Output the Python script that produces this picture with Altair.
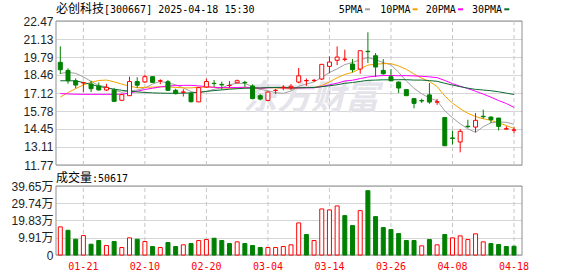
import altair as alt
import pandas as pd

# ---------------- data ----------------
dates = ["01-16", "01-17", "01-20", "01-21", "01-22", "01-23", "01-24", "01-27",
         "02-05", "02-06", "02-07", "02-10", "02-11", "02-12", "02-13", "02-14",
         "02-17", "02-18", "02-19", "02-20", "02-21", "02-24", "02-25", "02-26",
         "02-27", "02-28", "03-03", "03-04", "03-05", "03-06", "03-07", "03-10",
         "03-11", "03-12", "03-13", "03-14", "03-17", "03-18", "03-19", "03-20",
         "03-21", "03-24", "03-25", "03-26", "03-27", "03-28", "03-31", "04-01",
         "04-02", "04-03", "04-07", "04-08", "04-09", "04-10", "04-11", "04-14",
         "04-15", "04-16", "04-17", "04-18"]

opens = [19.40, 18.80, 18.03, 17.87, 17.79, 17.64, 17.34, 17.34, 16.58, 16.92,
         17.97, 17.94, 18.33, 18.02, 17.96, 17.32, 17.18, 17.10, 16.46, 17.57,
         17.84, 17.76, 17.67, 17.88, 17.91, 17.64, 16.92, 16.57, 17.31, 17.53,
         17.52, 17.93, 18.03, 18.04, 18.16, 19.10, 19.55, 19.62, 19.27, 18.90,
         20.22, 19.89, 18.80, 18.33, 17.93, 17.37, 16.70, 16.56, 16.98, 16.44,
         15.30, 13.78, 13.48, 14.65, 14.59, 15.39, 15.33, 15.26, 14.44, 14.36]
highs = [20.59, 18.95, 18.21, 17.95, 18.03, 17.90, 17.80, 17.50, 17.02, 18.33,
         18.29, 18.48, 18.36, 18.14, 18.09, 17.44, 17.40, 17.18, 17.54, 18.18,
         18.08, 17.96, 18.00, 18.12, 18.02, 17.76, 17.04, 17.22, 17.42, 17.71,
         17.78, 18.98, 18.20, 18.17, 19.27, 19.84, 20.58, 20.34, 19.64, 20.26,
         21.63, 20.09, 19.64, 18.90, 17.98, 17.41, 16.70, 16.70, 17.86, 16.67,
         15.30, 14.32, 14.44, 15.13, 15.63, 15.88, 15.38, 15.26, 14.66, 14.57]
lows = [18.53, 17.81, 17.47, 17.20, 17.19, 17.30, 17.27, 16.48, 16.55, 16.90,
        17.50, 17.87, 17.86, 17.77, 17.28, 17.02, 16.86, 16.42, 16.45, 17.52,
        17.58, 17.38, 17.48, 17.84, 17.58, 16.66, 16.57, 16.55, 17.05, 17.32,
        17.35, 17.85, 17.65, 17.95, 18.08, 18.60, 19.20, 19.47, 18.65, 18.55,
        19.35, 18.31, 18.48, 17.98, 17.12, 16.92, 15.98, 16.38, 16.32, 16.24,
        13.20, 13.28, 12.71, 14.52, 14.19, 15.21, 14.89, 14.34, 14.40, 14.15]
closes = [18.85, 18.03, 17.71, 17.88, 17.44, 17.35, 17.54, 16.50, 17.00, 17.97,
          17.70, 18.33, 17.91, 18.03, 17.32, 17.07, 17.19, 16.47, 17.52, 17.97,
          17.82, 17.72, 17.68, 18.03, 17.88, 16.70, 16.67, 17.19, 17.32, 17.55,
          17.62, 18.40, 18.05, 18.06, 19.25, 19.42, 19.79, 19.64, 18.85, 20.26,
          20.19, 19.05, 18.55, 18.03, 17.49, 16.92, 16.35, 16.53, 16.45, 16.47,
          13.20, 13.75, 14.27, 14.62, 15.09, 15.36, 15.14, 14.64, 14.47, 14.37]

# volume in 万 (10k)
volumes = [16.16, 14.21, 9.06, 11.17, 6.20, 8.31, 5.44, 7.74, 4.30, 9.85,
           9.06, 7.74, 4.87, 4.30, 7.16, 4.87, 5.84, 6.59, 8.31, 8.88,
           9.63, 8.31, 6.59, 7.56, 6.59, 5.44, 4.30, 4.30, 4.30, 4.87,
           5.84, 18.45, 11.75, 8.31, 26.47, 25.90, 28.19, 22.63, 16.90, 25.50,
           36.96, 22.06, 15.76, 14.61, 12.32, 8.31, 8.31, 5.27, 8.88, 5.84,
           11.75, 9.85, 11.00, 8.88, 12.15, 7.56, 6.59, 6.02, 4.87, 5.06]
vol_up = [1, 0, 0, 1, 0, 0, 1, 0, 1, 1,
          0, 1, 0, 1, 0, 0, 1, 0, 1, 1,
          0, 0, 0, 1, 0, 0, 0, 1, 1, 1,
          1, 1, 0, 1, 1, 1, 1, 0, 0, 1,
          0, 0, 0, 0, 0, 0, 0, 1, 0, 1,
          0, 1, 1, 1, 1, 1, 0, 0, 0, 0]

ma5 = [18.58, 18.65, 18.58, 18.32, 17.98, 17.68, 17.58, 17.34, 17.17, 17.27,
       17.34, 17.50, 17.78, 17.99, 17.86, 17.73, 17.50, 17.22, 17.11, 17.24,
       17.39, 17.50, 17.74, 17.84, 17.83, 17.60, 17.39, 17.29, 17.15, 17.09,
       17.27, 17.62, 17.79, 17.94, 18.28, 18.64, 18.91, 19.23, 19.39, 19.59,
       19.75, 19.60, 19.38, 19.22, 18.66, 18.01, 17.47, 17.06, 16.75, 16.54,
       15.80, 15.28, 14.83, 14.46, 14.19, 14.62, 14.90, 14.97, 14.94, 14.80]
ma10 = [16.82, 17.15, 17.45, 17.72, 17.92, 18.05, 18.08, 17.95, 17.78, 17.63,
        17.51, 17.54, 17.56, 17.58, 17.57, 17.54, 17.50, 17.50, 17.55, 17.55,
        17.56, 17.50, 17.48, 17.48, 17.54, 17.50, 17.44, 17.52, 17.50, 17.46,
        17.43, 17.50, 17.53, 17.53, 17.67, 17.94, 18.25, 18.50, 18.65, 18.93,
        19.19, 19.26, 19.30, 19.30, 19.13, 18.88, 18.53, 18.22, 17.98, 17.60,
        16.90, 16.37, 15.95, 15.61, 15.37, 15.21, 15.09, 14.90, 14.70, 14.49]
ma20 = [17.08, 17.05, 17.03, 17.02, 17.02, 17.02, 17.02, 17.02, 17.03, 17.12,
        17.25, 17.38, 17.48, 17.57, 17.64, 17.67, 17.69, 17.69, 17.65, 17.59,
        17.54, 17.52, 17.52, 17.53, 17.55, 17.52, 17.47, 17.51, 17.53, 17.50,
        17.49, 17.50, 17.51, 17.51, 17.60, 17.72, 17.85, 18.01, 18.07, 18.19,
        18.31, 18.37, 18.42, 18.42, 18.40, 18.41, 18.39, 18.36, 18.32, 18.26,
        18.05, 17.82, 17.62, 17.45, 17.25, 17.04, 16.81, 16.56, 16.34, 16.05]
ma30 = [18.03, 18.03, 18.02, 17.90, 17.75, 17.62, 17.50, 17.40, 17.32, 17.25,
        17.20, 17.16, 17.13, 17.11, 17.10, 17.10, 17.11, 17.13, 17.18, 17.24,
        17.30, 17.35, 17.40, 17.44, 17.47, 17.48, 17.50, 17.52, 17.53, 17.54,
        17.50, 17.51, 17.52, 17.53, 17.59, 17.66, 17.73, 17.84, 17.90, 17.98,
        18.06, 18.08, 18.10, 18.10, 18.11, 18.11, 18.08, 18.08, 18.04, 17.99,
        17.84, 17.71, 17.59, 17.48, 17.39, 17.34, 17.29, 17.21, 17.11, 17.01]

price_ticks = [11.77, 13.11, 14.45, 15.78, 17.12, 18.46, 19.79, 21.13, 22.47]
vol_ticks = [0, 9.91, 19.83, 29.74, 39.65]
label_dates = ["01-21", "02-10", "02-20", "03-04", "03-14", "03-26", "04-08", "04-18"]
ma_names = ["5PMA", "10PMA", "20PMA", "30PMA"]
title_cjk = "必创科技"
title_latin = "[300667] 2025-04-18 15:30"
vol_title_cjk = "成交量"
vol_title_num = ":50617"
watermark = "东方财富"

# ---------------- styles / layout ----------------
W, H = 466, 234
PRICE_DOMAIN = [5.083, 22.47]
VOL_DOMAIN = [0, 134.47]
UP, DOWN = "#ff0000", "#008000"
MA_COLORS = ["#a0a0a0", "#f5a300", "#ff00ff", "#0b6b30"]
GRID, FRAME, VGRID = "#d6d6d6", "#8f8f8f", "#c6c6c6"
SANS = "Liberation Sans, Noto Sans CJK SC"
MONO = "DejaVu Sans Mono"
CJK = "Noto Sans CJK SC"

candles = pd.DataFrame({"date": dates, "open": opens, "high": highs,
                        "low": lows, "close": closes})
candles["dir"] = ["up" if c >= o else "down" for o, c in zip(opens, closes)]
vol = pd.DataFrame({"date": dates, "vol": volumes,
                    "dir": ["up" if u else "down" for u in vol_up]})
vol["base"] = 0.0
ma_df = pd.concat([pd.DataFrame({"date": dates, "ma": v, "name": n})
                   for n, v in zip(ma_names, [ma5, ma10, ma20, ma30])])
vgrid = pd.DataFrame({"date": label_dates})
vgrid["p_lo"], vgrid["p_hi"] = price_ticks[0], price_ticks[-1]
vgrid["v_lo"], vgrid["v_hi"] = vol_ticks[0], vol_ticks[-1]
pframe = pd.DataFrame({"top": [price_ticks[-1]], "bot": [price_ticks[0]]})
vframe = pd.DataFrame({"top": [vol_ticks[-1]], "bot": [vol_ticks[0]]})

x_enc = alt.X("date:O",
              scale=alt.Scale(domain=dates, paddingInner=0, paddingOuter=0.3, align=0.1),
              axis=alt.Axis(values=label_dates, labelColor=UP, labelFont=MONO,
                            labelFontSize=10, labelAngle=0, ticks=False, domain=False,
                            grid=False, labelPadding=6, title=None))


def py(field, axis=None):
    return alt.Y(field, type="quantitative",
                 scale=alt.Scale(domain=PRICE_DOMAIN, nice=False, zero=False), axis=axis)


def vy(field, axis=None):
    return alt.Y(field, type="quantitative",
                 scale=alt.Scale(domain=VOL_DOMAIN, nice=False, zero=False), axis=axis)


dir_color = alt.Scale(domain=["up", "down"], range=[UP, DOWN])
dir_fill = alt.Scale(domain=["up", "down"], range=["#ffffff", DOWN])

layers = []

# watermark
layers.append(alt.Chart(pd.DataFrame({"t": [watermark]})).mark_text(
    font=CJK, fontSize=34, fontWeight="bold", fontStyle="italic", color="#e4e4ea",
    align="center", baseline="middle").encode(
    x=alt.value(255), y=alt.value(78), text="t:N"))

# price frame + price axis
layers.append(alt.Chart(pframe).mark_rect(fillOpacity=0, stroke=FRAME, strokeWidth=1).encode(
    x=alt.value(0), x2=alt.value(W),
    y=py("top:Q", alt.Axis(values=price_ticks, format=".2f", grid=True, gridColor=GRID,
                           ticks=False, domain=False, labelFont=SANS, labelFontSize=12,
                           labelColor="#1e1e1e", labelPadding=3, title=None, orient="left")),
    y2="bot:Q"))

# volume frame + volume axis
layers.append(alt.Chart(vframe).mark_rect(fillOpacity=0, stroke=FRAME, strokeWidth=1).encode(
    x=alt.value(0), x2=alt.value(W),
    y=vy("top:Q", alt.Axis(values=vol_ticks, grid=True, gridColor=GRID, ticks=False,
                           domain=False, labelFont=SANS, labelFontSize=12,
                           labelColor="#1e1e1e", labelPadding=3, title=None, orient="left",
                           labelExpr="datum.value == 0 ? '0' : format(datum.value, '.2f') + '万'")),
    y2="bot:Q"))

# vertical dashed grid
layers.append(alt.Chart(vgrid).mark_rule(color=VGRID, strokeDash=[4, 3], strokeWidth=1).encode(
    x=x_enc, y=py("p_lo:Q"), y2="p_hi:Q"))
layers.append(alt.Chart(vgrid).mark_rule(color=VGRID, strokeDash=[4, 3], strokeWidth=1).encode(
    x=x_enc, y=vy("v_lo:Q"), y2="v_hi:Q"))

# moving averages
layers.append(alt.Chart(ma_df).mark_line(strokeWidth=1).encode(
    x=x_enc, y=py("ma:Q"),
    color=alt.Color("name:N", scale=alt.Scale(domain=ma_names, range=MA_COLORS), legend=None)))

# candles: wicks and bodies
layers.append(alt.Chart(candles).mark_rule(strokeWidth=1).encode(
    x=x_enc, y=py("low:Q"), y2="high:Q",
    color=alt.Color("dir:N", scale=dir_color, legend=None)))
layers.append(alt.Chart(candles).mark_bar(size=4, strokeWidth=1).encode(
    x=x_enc, y=py("open:Q"), y2="close:Q",
    fill=alt.Fill("dir:N", scale=dir_fill, legend=None),
    stroke=alt.Stroke("dir:N", scale=dir_color, legend=None)))

# volume bars
layers.append(alt.Chart(vol).mark_bar(size=4, strokeWidth=1).encode(
    x=x_enc, y=vy("vol:Q"), y2="base:Q",
    fill=alt.Fill("dir:N", scale=dir_fill, legend=None),
    stroke=alt.Stroke("dir:N", scale=dir_color, legend=None)))

# title texts
layers.append(alt.Chart(pd.DataFrame({"t": [title_cjk]})).mark_text(
    font=CJK, fontSize=12, color="#000000", align="left", baseline="alphabetic").encode(
    x=alt.value(0), y=alt.value(-8.5), text="t:N"))
layers.append(alt.Chart(pd.DataFrame({"t": [title_latin]})).mark_text(
    font=MONO, fontSize=10, color="#000000", align="left", baseline="alphabetic").encode(
    x=alt.value(48), y=alt.value(-8.5), text="t:N"))
layers.append(alt.Chart(pd.DataFrame({"t": [vol_title_cjk]})).mark_text(
    font=CJK, fontSize=12, color="#000000", align="left", baseline="alphabetic").encode(
    x=alt.value(0), y=alt.value(160.5), text="t:N"))
layers.append(alt.Chart(pd.DataFrame({"t": [vol_title_num]})).mark_text(
    font=MONO, fontSize=10, color="#000000", align="left", baseline="alphabetic").encode(
    x=alt.value(36), y=alt.value(160.5), text="t:N"))

# MA legend (label followed by a colored dash)
leg_x = [282.7, 324.3, 369.7, 416.0]
for name, col, lx in zip(ma_names, MA_COLORS, leg_x):
    d = pd.DataFrame({"t": [name]})
    layers.append(alt.Chart(d).mark_text(
        font=MONO, fontSize=10, color="#000000", align="left", baseline="alphabetic").encode(
        x=alt.value(lx), y=alt.value(-8.3), text="t:N"))
    dash_start = lx + 6.02 * len(name) + 2.2
    layers.append(alt.Chart(d).mark_rule(color=col, strokeWidth=2).encode(
        x=alt.value(dash_start), x2=alt.value(dash_start + 5), y=alt.value(-11.7)))

chart = alt.layer(*layers).resolve_scale(
    y="independent", color="independent", fill="independent", stroke="independent"
).properties(
    width=W, height=H,
    padding={"left": 56, "top": 21, "right": 56, "bottom": 21},
    autosize=alt.AutoSizeParams(type="none"),
    background="#ffffff",
).configure_view(stroke=None)

chart.save("out.html", embed_options={"renderer": "svg", "actions": False})
